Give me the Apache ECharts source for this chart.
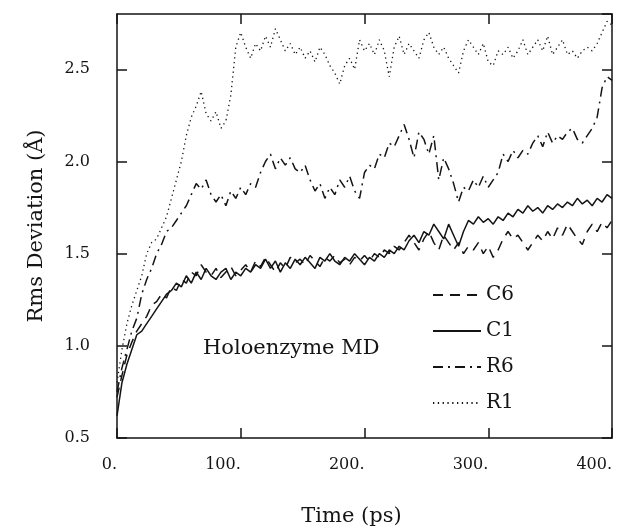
<!DOCTYPE html>
<html>
<head>
<meta charset="utf-8">
<script src="https://cdn.jsdelivr.net/npm/echarts@6/dist/echarts.min.js"></script>
<style>html,body{margin:0;padding:0;background:#fff}#c{width:632px;height:528px}</style>
</head>
<body>
<div id="c"></div>
<script>
// Time axis (ps), 4 ps steps
const timePs = [0,4,8,12,16,20,24,28,32,36,40,44,48,52,56,60,64,68,72,76,80,84,88,92,96,100,104,108,112,116,120,124,128,132,136,140,144,148,152,156,160,164,168,172,176,180,184,188,192,196,200,204,208,212,216,220,224,228,232,236,240,244,248,252,256,260,264,268,272,276,280,284,288,292,296,300,304,308,312,316,320,324,328,332,336,340,344,348,352,356,360,364,368,372,376,380,384,388,392,396,400];

const seriesNames = ['C6', 'C1', 'R6', 'R1'];

const c6 = [0.72,0.84,0.95,1.02,1.08,1.12,1.16,1.22,1.24,1.28,1.26,1.32,1.30,1.36,1.34,1.40,1.38,1.44,1.40,1.38,1.42,1.37,1.40,1.43,1.38,1.41,1.44,1.40,1.46,1.43,1.48,1.44,1.40,1.45,1.42,1.48,1.45,1.47,1.44,1.49,1.46,1.43,1.48,1.46,1.49,1.45,1.47,1.44,1.48,1.46,1.49,1.46,1.50,1.48,1.52,1.50,1.54,1.52,1.56,1.60,1.56,1.52,1.58,1.62,1.56,1.52,1.60,1.56,1.52,1.56,1.50,1.54,1.52,1.56,1.50,1.54,1.48,1.52,1.58,1.62,1.58,1.60,1.56,1.52,1.56,1.60,1.57,1.62,1.58,1.64,1.60,1.66,1.62,1.58,1.55,1.62,1.66,1.62,1.67,1.64,1.68];

const c1 = [0.62,0.80,0.90,0.98,1.06,1.08,1.12,1.16,1.20,1.24,1.28,1.30,1.34,1.32,1.38,1.34,1.40,1.36,1.42,1.38,1.36,1.40,1.42,1.36,1.40,1.38,1.42,1.40,1.44,1.42,1.47,1.42,1.46,1.40,1.45,1.42,1.47,1.44,1.48,1.45,1.42,1.48,1.46,1.50,1.46,1.44,1.48,1.46,1.50,1.47,1.44,1.48,1.46,1.50,1.48,1.52,1.50,1.54,1.52,1.57,1.60,1.56,1.62,1.60,1.66,1.62,1.58,1.66,1.60,1.54,1.62,1.68,1.66,1.70,1.67,1.69,1.66,1.70,1.68,1.72,1.70,1.74,1.72,1.76,1.73,1.75,1.72,1.76,1.74,1.77,1.75,1.78,1.76,1.80,1.77,1.79,1.76,1.80,1.78,1.82,1.80];

const r6 = [0.75,0.88,0.98,1.08,1.15,1.28,1.36,1.42,1.50,1.55,1.62,1.64,1.68,1.72,1.76,1.82,1.88,1.85,1.90,1.82,1.78,1.82,1.76,1.84,1.80,1.86,1.82,1.88,1.86,1.94,2.00,2.04,1.96,2.02,1.98,2.02,1.96,1.94,1.98,1.90,1.84,1.88,1.80,1.86,1.82,1.90,1.86,1.92,1.84,1.80,1.94,1.98,1.96,2.04,2.02,2.10,2.08,2.14,2.20,2.12,2.02,2.16,2.12,2.04,2.14,1.90,2.02,1.96,1.88,1.78,1.86,1.84,1.90,1.86,1.92,1.86,1.90,1.94,2.04,2.00,2.06,2.02,2.06,2.04,2.10,2.14,2.08,2.16,2.10,2.14,2.12,2.16,2.18,2.12,2.10,2.14,2.18,2.24,2.40,2.46,2.44];

const r1 = [0.80,0.98,1.12,1.22,1.30,1.38,1.50,1.56,1.58,1.64,1.70,1.80,1.90,2.00,2.14,2.24,2.30,2.38,2.26,2.22,2.27,2.18,2.22,2.36,2.62,2.70,2.62,2.56,2.64,2.60,2.68,2.62,2.72,2.66,2.60,2.64,2.58,2.62,2.56,2.60,2.54,2.62,2.58,2.52,2.48,2.42,2.52,2.56,2.50,2.66,2.60,2.64,2.58,2.66,2.60,2.46,2.62,2.68,2.58,2.64,2.60,2.56,2.66,2.70,2.62,2.58,2.62,2.56,2.52,2.48,2.60,2.66,2.62,2.58,2.64,2.54,2.52,2.60,2.58,2.62,2.56,2.60,2.66,2.58,2.62,2.66,2.60,2.68,2.58,2.62,2.66,2.58,2.60,2.56,2.60,2.62,2.60,2.64,2.70,2.76,2.74];

const xTicks = [0, 100, 200, 300, 400];
const yTicks = [0.5, 1.0, 1.5, 2.0, 2.5];

const FONT = 'DejaVu Serif';
const INK = '#141414';

function pairs(vals) { return timePs.map((t, i) => [t, vals[i]]); }

const styles = {
  C6: { type: [10, 7], width: 1.5 },
  C1: { type: 'solid', width: 1.5 },
  R6: { type: [10, 5, 2, 5], width: 1.5 },
  R1: { type: [1.3, 3.5], width: 1.3 }
};
const valuesByName = { C6: c6, C1: c1, R6: r6, R1: r1 };

const chart = echarts.init(document.getElementById('c'), null, { renderer: 'canvas' });

const axisCommon = {
  axisLine: { show: true, onZero: false, lineStyle: { color: INK, width: 1.5 } },
  axisTick: { show: true, inside: true, length: 10, lineStyle: { color: INK, width: 1.5 } },
  splitLine: { show: false }
};

chart.setOption({
  animation: false,
  backgroundColor: '#fff',
  grid: { left: 117, right: 20, top: 14, bottom: 90, containLabel: false, outerBoundsMode: 'none' },
  legend: {
    orient: 'vertical',
    left: 427, top: 280,
    itemWidth: 48, itemHeight: 14, itemGap: 16,
    itemStyle: { opacity: 0 },
    data: seriesNames,
    textStyle: { fontFamily: FONT, fontSize: 20, color: INK }
  },
  xAxis: [
    Object.assign({}, axisCommon, {
      type: 'value', min: 0, max: 400, interval: 100, position: 'bottom',
      axisLabel: { formatter: v => v + '.', fontFamily: FONT, fontSize: 16, color: INK, margin: 19, align: 'right' },
      name: 'Time (ps)', nameLocation: 'middle', nameGap: 68,
      nameTextStyle: { fontFamily: FONT, fontSize: 21, color: INK, padding: [0, 26, 0, 0] }
    }),
    Object.assign({}, axisCommon, {
      type: 'value', min: 0, max: 400, interval: 100, position: 'top',
      axisLabel: { show: false }
    })
  ],
  yAxis: [
    Object.assign({}, axisCommon, {
      type: 'value', min: 0.5, max: 2.8, interval: 0.5, position: 'left',
      axisLabel: { formatter: v => v.toFixed(1), fontFamily: FONT, fontSize: 16, color: INK, margin: 27, showMaxLabel: false },
      name: 'Rms Deviation (Å)', nameLocation: 'middle', nameGap: 70, nameRotate: 90,
      nameTextStyle: { fontFamily: FONT, fontSize: 21, color: INK }
    }),
    Object.assign({}, axisCommon, {
      type: 'value', min: 0.5, max: 2.8, interval: 0.5, position: 'right',
      axisLabel: { show: false }
    })
  ],
  graphic: [{
    type: 'text', left: 203, top: 338,
    style: { text: 'Holoenzyme MD', font: '21px "DejaVu Serif"', fill: INK }
  }],
  series: seriesNames.map(n => ({
    name: n, type: 'line', xAxisIndex: 0, yAxisIndex: 0,
    data: pairs(valuesByName[n]),
    showSymbol: false, symbol: 'none',
    lineStyle: { color: INK, width: styles[n].width, type: styles[n].type },
    itemStyle: { color: INK }
  }))
});
</script>
</body>
</html>
